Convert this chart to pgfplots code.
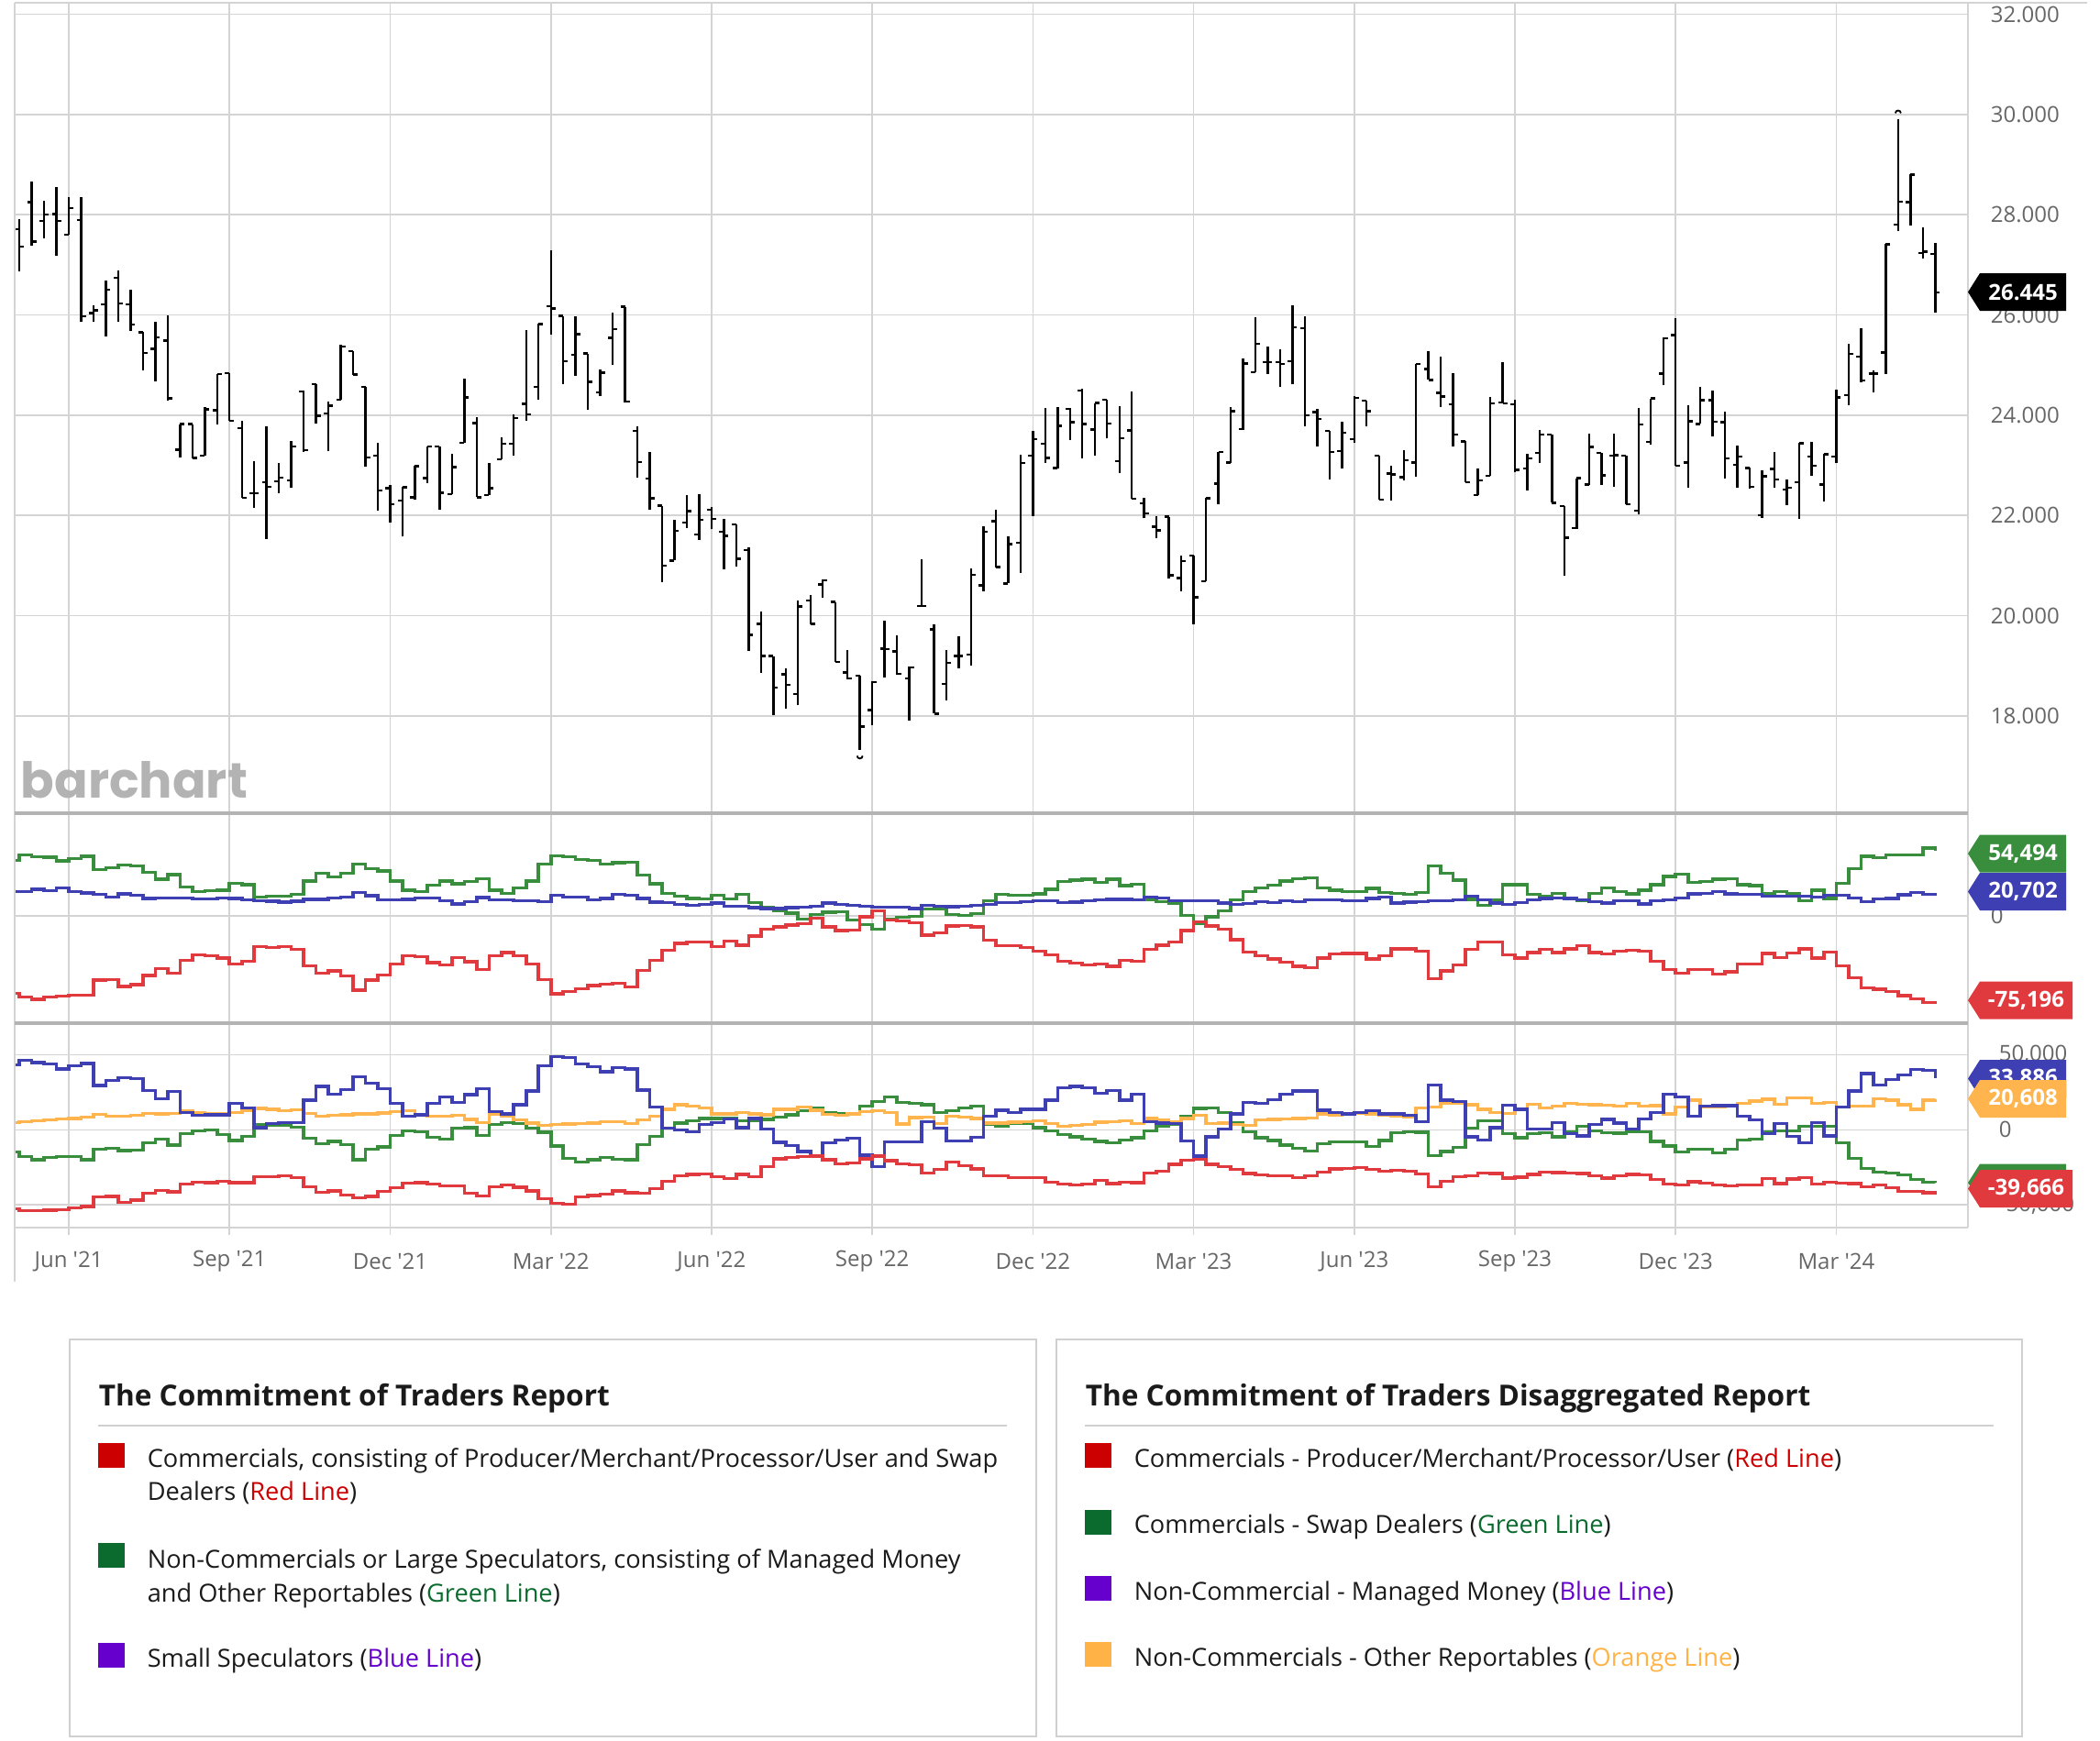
\documentclass[border=0pt]{standalone}
\usepackage{pgfplots}
\pgfplotsset{compat=1.18}
\usepackage{pgfplotstable}
\usepackage{fontspec}
\setmainfont{Open Sans}
\newfontfamily\logofam{Poppins}
\definecolor{gridc}{HTML}{D4D4D4}
\definecolor{sepc}{HTML}{B3B3B3}
\definecolor{lblc}{HTML}{666666}
\definecolor{cred}{HTML}{E03A3E}
\definecolor{cgreen}{HTML}{388E3C}
\definecolor{cblue}{HTML}{3F3FB4}
\definecolor{corange}{HTML}{FFB44D}
\definecolor{lgred}{HTML}{CC0000}
\definecolor{lggreen}{HTML}{0B6B2E}
\definecolor{lgpurple}{HTML}{6600CC}
\definecolor{lgorange}{HTML}{FFB347}
\definecolor{lgtext}{HTML}{1A1A1A}
\definecolor{boxc}{HTML}{D0D0D0}
\definecolor{logoc}{HTML}{B3B3B3}

\pgfdeclareplotmark{nomark}{}
\pgfdeclareplotmark{otick}{\pgfpathmoveto{\pgfqpoint{-1.25pt}{0pt}}\pgfpathlineto{\pgfqpoint{0pt}{0pt}}\pgfusepathqstroke}
\pgfdeclareplotmark{ctick}{\pgfpathmoveto{\pgfqpoint{0pt}{0pt}}\pgfpathlineto{\pgfqpoint{1.25pt}{0pt}}\pgfusepathqstroke}
\pgfdeclareplotmark{topcap}{\pgfpathmoveto{\pgfqpoint{-0.75pt}{1.7pt}}\pgfpatharc{180}{0}{0.75pt}\pgfusepathqstroke}
\pgfdeclareplotmark{botcap}{\pgfpathmoveto{\pgfqpoint{-0.75pt}{-1.7pt}}\pgfpatharc{180}{360}{0.75pt}\pgfusepathqstroke}

\newcommand\lblfont{\fontsize{6}{7}\selectfont}
\newcommand\tagfont{\bfseries\fontsize{6}{7}\selectfont}
\newcommand\bodyfont{\fontsize{6.8}{8}\selectfont}
\newcommand\titlefont{\bfseries\fontsize{7.9}{9}\selectfont}

\pgfplotstableread{
k O H L C
0 27.710 27.921 26.864 27.360
1 28.254 28.658 27.390 27.468
2 27.879 28.278 27.529 28.000
3 28.012 28.556 27.190 27.873
4 27.607 28.344 27.601 28.133
5 27.891 28.344 25.867 25.976
6 26.036 26.187 25.867 26.097
7 26.212 26.683 25.577 26.502
8 26.743 26.882 25.867 26.230
9 26.212 26.502 25.674 25.807
10 25.656 25.656 24.888 25.245
11 25.323 25.867 24.671 25.553
12 25.487 25.988 24.296 24.339
13 23.311 23.825 23.166 23.825
14 23.825 23.825 23.148 23.148
15 23.197 24.163 23.197 24.115
16 24.097 24.822 23.825 24.822
17 24.840 24.840 23.891 23.891
18 23.740 23.885 22.351 22.351
19 22.441 23.088 22.152 22.441
20 22.665 23.771 21.535 22.574
21 22.677 23.046 22.441 22.756
22 22.695 23.493 22.562 23.378
23 24.477 24.496 23.269 23.299
24 24.617 24.617 23.843 23.988
25 24.037 24.266 23.281 24.194
26 24.315 25.402 24.315 25.372
27 25.281 25.281 24.810 24.810
28 24.568 24.568 22.967 23.160
29 23.191 23.450 22.103 22.502
30 22.544 22.605 21.867 22.224
31 22.302 22.574 21.577 22.562
32 22.363 22.985 22.321 22.985
33 22.744 23.372 22.647 23.372
34 23.372 23.372 22.121 22.453
35 22.423 23.239 22.423 22.967
36 23.450 24.731 23.450 24.357
37 23.843 23.964 22.363 22.363
38 22.405 23.040 22.405 22.544
39 23.118 23.559 23.118 23.432
40 23.430 24.013 23.200 23.948
41 24.230 25.692 23.889 24.013
42 24.571 25.836 24.308 25.816
43 26.177 27.300 25.607 26.131
44 25.980 25.980 24.623 25.076
45 25.207 25.980 24.787 25.620
46 25.233 25.233 24.112 24.669
47 24.459 24.918 24.374 24.852
48 25.541 26.046 25.003 25.718
49 26.164 26.164 24.249 24.276
50 23.685 23.771 22.754 23.063
51 22.741 23.259 22.112 22.341
52 22.197 22.197 20.669 21.004
53 21.102 21.915 21.102 21.692
54 21.856 22.413 21.751 22.086
55 21.620 22.426 21.509 21.915
56 22.112 22.164 21.725 21.935
57 21.672 21.935 20.932 21.594
58 21.823 21.823 20.984 21.135
59 21.312 21.358 19.292 19.620
60 19.837 20.079 18.866 19.194
61 19.194 19.194 18.020 18.571
62 18.833 18.951 18.145 18.623
63 18.440 20.295 18.210 20.184
64 20.309 20.407 19.824 19.837
65 20.623 20.721 20.361 20.708
66 20.276 20.276 19.082 19.082
67 18.866 19.325 18.735 18.754
68 18.800 18.800 17.330 17.791
69 18.119 18.689 17.817 18.676
70 19.345 19.902 18.767 19.332
71 19.292 19.607 18.820 18.840
72 18.754 18.984 17.902 18.971
73 20.197 21.128 20.190 20.197
74 19.725 19.837 18.046 18.046
75 18.643 19.325 18.315 19.063
76 19.200 19.587 18.951 19.194
77 19.227 20.938 18.997 20.820
78 20.604 21.790 20.479 21.672
79 21.889 22.112 20.969 20.969
80 20.644 21.577 20.644 21.429
81 21.454 23.221 20.847 23.049
82 23.190 23.693 21.994 23.528
83 23.436 24.153 23.055 23.147
84 22.945 24.172 22.945 23.785
85 24.129 24.141 23.509 23.865
86 24.497 24.521 23.147 23.822
87 23.712 24.245 23.190 24.245
88 24.313 24.313 23.540 23.834
89 23.086 24.184 22.853 23.540
90 23.699 24.466 22.331 22.331
91 22.239 22.350 21.945 22.037
92 21.779 21.982 21.546 21.705
93 21.976 21.976 20.736 20.810
94 20.754 21.196 20.479 21.092
95 21.196 21.196 19.828 20.368
96 20.687 22.344 20.687 22.344
97 22.638 23.264 22.221 23.264
98 23.055 24.160 23.055 24.080
99 23.724 25.141 23.712 25.031
100 24.859 25.951 24.859 25.429
101 25.061 25.368 24.816 25.061
102 25.061 25.325 24.571 25.018
103 25.074 26.196 24.613 25.755
104 25.736 25.982 23.785 23.997
105 24.061 24.129 23.386 23.926
106 23.693 23.693 22.718 23.264
107 23.282 23.865 22.932 23.650
108 23.528 24.374 23.448 24.344
109 24.295 24.295 23.773 24.080
110 23.190 23.190 22.319 22.319
111 22.834 22.994 22.301 22.822
112 22.761 23.301 22.699 23.098
113 23.055 25.031 22.773 25.018
114 24.926 25.276 24.705 24.705
115 24.448 25.166 24.160 24.374
116 24.215 24.847 23.386 23.620
117 23.479 23.479 22.669 22.669
118 22.411 22.932 22.411 22.699
119 22.791 24.356 22.791 24.239
120 24.252 25.057 24.239 24.239
121 24.219 24.318 22.864 22.910
122 22.942 23.224 22.504 23.139
123 23.244 23.702 23.047 23.617
124 23.617 23.617 22.255 22.255
125 22.189 22.189 20.789 21.554
126 21.751 22.746 21.738 22.746
127 22.615 23.630 22.615 23.368
128 23.244 23.244 22.602 22.798
129 23.191 23.630 22.569 23.204
130 23.191 23.191 22.229 22.229
131 22.098 24.154 22.026 23.813
132 23.473 24.337 23.420 24.337
133 24.828 25.548 24.596 25.535
134 25.601 25.941 22.995 22.995
135 23.060 24.206 22.556 23.878
136 23.826 24.566 23.826 24.304
137 24.304 24.487 23.571 23.866
138 23.859 24.075 22.733 23.139
139 23.014 23.387 22.556 23.178
140 22.949 22.949 22.537 22.569
141 22.000 22.910 21.947 22.779
142 22.929 23.276 22.549 22.720
143 22.517 22.713 22.209 22.556
144 22.667 23.453 21.934 23.440
145 23.178 23.473 22.785 22.995
146 22.615 23.237 22.275 23.224
147 23.178 24.514 23.041 24.357
148 24.402 25.418 24.206 25.221
149 25.168 25.744 24.659 24.692
150 24.828 24.894 24.448 24.828
151 25.253 27.414 24.828 27.414
152 27.807 29.902 27.676 28.265
153 28.252 28.808 27.787 28.802
154 27.237 27.741 27.119 27.263
155 27.217 27.434 26.039 26.445
}\price

\pgfplotstableread{
k R G B
-1 -66604 47932 21075
0 -70026 52408 21075
1 -71870 51092 22919
2 -70026 50565 21602
3 -69237 47405 24235
4 -68447 49249 21075
5 -68447 51355 19759
6 -55282 40033 18442
7 -54755 41350 16336
8 -60811 43983 18969
9 -59231 43193 17653
10 -51332 37400 15020
11 -45540 31607 15283
12 -49489 35557 15546
13 -38430 24762 15283
14 -33691 21075 14493
15 -34218 21602 14493
16 -36324 22129 15546
17 -41590 28185 15020
18 -38957 26868 13703
19 -26582 16336 13176
20 -27109 16863 12650
21 -26319 16863 11860
22 -28952 18442 12650
23 -42907 30028 14230
24 -49489 36610 14230
25 -47383 33451 15283
26 -51595 36610 16336
27 -63971 44773 20286
28 -55282 40560 17389
29 -50806 38717 13703
30 -41590 30028 13703
31 -34218 22129 14230
32 -35008 21075 15546
33 -40274 26341 15546
34 -42117 30028 13176
35 -35797 27658 10280
36 -39484 29501 12386
37 -46066 32134 15809
38 -34481 22129 13703
39 -31585 19496 13703
40 -34218 24235 13176
41 -41590 30028 13176
42 -54755 44773 12386
43 -67130 51881 17653
44 -65287 51092 16336
45 -62654 48459 16336
46 -60021 47932 13703
47 -58705 44773 15020
48 -57915 45826 18442
49 -61338 46089 17653
50 -46856 35294 15020
51 -38430 27658 11860
52 -29742 19496 11596
53 -23685 16863 9753
54 -22632 15020 9227
55 -22632 14493 9753
56 -26319 17653 11070
57 -21843 14493 8437
58 -25265 18442 8437
59 -17366 11596 7120
60 -11310 7120 6331
61 -9467 4487 6331
62 -7888 2381 7120
63 -6834 -2622 7647
64 -2095 1328 8437
65 -9467 3171 11070
66 -12627 3698 9753
67 -12100 -3412 8964
68 -779 -7361 8437
69 4487 -11310 7647
70 -3412 -2622 7647
71 -4201 -1305 7647
72 -6045 -252 6331
73 -16576 5804 8964
74 -14733 5804 8437
75 -8678 1065 7910
76 -8151 538 8437
77 -9467 1855 9227
78 -21053 12913 9753
79 -25792 18442 11596
80 -25792 17653 11596
81 -27109 17653 12386
82 -30531 18969 13176
83 -33691 22919 12913
84 -38957 29501 11596
85 -40800 30818 11860
86 -42380 31607 13176
87 -41590 28974 13703
88 -43433 31607 14230
89 -38167 26078 14230
90 -38957 27395 13703
91 -28952 13703 16336
92 -25265 12386 15546
93 -22632 11070 13176
94 -12627 538 13176
95 -5255 -6834 13176
96 -8678 -779 13176
97 -11310 4487 11070
98 -20526 13703 9753
99 -31058 21075 10543
100 -34481 24235 12386
101 -37114 26341 11596
102 -39747 30028 12913
103 -43433 32134 12386
104 -44750 32661 13703
105 -36324 24235 13703
106 -32901 22129 13703
107 -32375 21075 12913
108 -32375 21075 12913
109 -37114 23708 15020
110 -34481 20286 16336
111 -28425 19496 11070
112 -28425 18442 11860
113 -30268 20286 12386
114 -53965 43193 12913
115 -47383 36610 13176
116 -42380 30818 13703
117 -28952 14230 16863
118 -22632 8964 13703
119 -22632 13703 11070
120 -33691 26868 9753
121 -36324 26868 11596
122 -31585 18442 13703
123 -28952 16863 15020
124 -31585 19496 15546
125 -28425 15546 15020
126 -25792 12913 13703
127 -31585 19496 12386
128 -32901 24235 11070
129 -30531 21075 13176
130 -29742 18969 12913
131 -30531 22129 10280
132 -38957 26868 13176
133 -46066 33977 13703
134 -49489 36083 15546
135 -46066 28711 18969
136 -46329 29501 19496
137 -50279 31607 20812
138 -48173 32134 18969
139 -41590 26868 18442
140 -41590 26078 18442
141 -32375 18969 16863
142 -35797 21075 16863
143 -31848 18969 16863
144 -28425 13176 16863
145 -36324 22129 16336
146 -31058 15020 17653
147 -42907 28185 17653
148 -53439 40823 15546
149 -61864 51355 12386
150 -63181 50038 14493
151 -65287 52408 15020
152 -68710 52408 18179
153 -71343 52671 20286
154 -74503 58464 18442
155 -73713 56358 19496
}\cotA

\pgfplotstableread{
k R G B O
-1 -52658 -14899 43269 4898
0 -54087 -17961 46331 5511
1 -54087 -20002 44902 6123
2 -53678 -18369 43882 6531
3 -53270 -17961 40616 7144
4 -52250 -17961 42657 7552
5 -51229 -20002 44290 8572
6 -44902 -12858 29595 10205
7 -44494 -12246 33064 8980
8 -48576 -13879 34697 9185
9 -46943 -13471 34085 9593
10 -42453 -8776 26329 11021
11 -40412 -6327 20818 10613
12 -41432 -10205 25513 11021
13 -36330 -2653 11634 12654
14 -34901 -612 9593 11226
15 -35309 0 10001 11021
16 -34289 -3062 10001 10613
17 -35309 -7144 17757 11634
18 -35309 -4286 14695 13062
19 -31227 3470 1429 14287
20 -31227 3062 4082 13675
21 -30819 3062 4898 12654
22 -31840 1837 4898 13267
23 -37963 -5715 19798 11021
24 -41841 -9185 28982 9185
25 -40820 -7756 23880 9593
26 -43473 -9797 26941 10001
27 -45514 -20002 35513 10613
28 -44494 -12858 31023 10613
29 -41024 -11430 27554 11226
30 -38779 -3674 17757 12042
31 -35718 -612 9185 12654
32 -35309 -1225 10001 10001
33 -36330 -5103 17757 9185
34 -37350 -6123 21839 9185
35 -37350 1021 18165 9593
36 -42453 1429 23472 6939
37 -44086 -3674 27554 4898
38 -37963 3470 12246 10205
39 -36738 4898 10613 9185
40 -38371 4082 16736 6531
41 -40820 1021 25921 4490
42 -45923 -1633 42657 3062
43 -49188 -10817 48780 3470
44 -49596 -18981 48372 3878
45 -44902 -21635 43882 4082
46 -43882 -20002 42249 4490
47 -42861 -18573 38779 5511
48 -40820 -19594 41636 5511
49 -42045 -20002 40616 4082
50 -42453 -9797 26533 6531
51 -39391 -4286 15308 9185
52 -34289 1021 1021 13675
53 -30819 4490 -204 16736
54 -29799 6123 -1225 15716
55 -29595 7552 3470 14695
56 -31227 7552 4898 10613
57 -32656 7552 7144 10613
58 -29799 6123 1429 11634
59 -31227 6123 7552 10613
60 -24696 6939 408 10001
61 -19390 8572 -8368 13675
62 -18573 10001 -10409 13675
63 -17961 12654 -14491 15103
64 -17553 14695 -17961 13062
65 -20002 11634 -8776 10205
66 -22655 10613 -6735 9593
67 -22043 10613 -5715 10613
68 -19390 15716 -16940 12042
69 -17553 18777 -24492 12654
70 -20614 21839 -8164 11634
71 -22655 18369 -8164 3878
72 -23472 17757 -8164 8164
73 -28778 16736 5511 8572
74 -26533 11634 1021 4082
75 -21635 12654 -7348 8980
76 -24084 14695 -7348 8572
77 -26125 15716 -5103 7552
78 -30819 3470 9185 4490
79 -30819 2449 13062 4490
80 -31840 4490 11634 5103
81 -31840 4490 13675 5511
82 -31840 1429 13675 5919
83 -34901 -612 19798 4082
84 -36330 -3266 27962 2449
85 -36738 -4694 28982 2857
86 -36330 -6123 27962 3470
87 -33881 -7756 24492 5103
88 -35922 -8776 26329 5511
89 -34901 -6735 19798 5919
90 -35309 -5307 23880 4082
91 -28778 -612 5511 7552
92 -27758 2449 4490 6531
93 -23063 3470 4082 5103
94 -20410 9185 -7348 7552
95 -19594 14287 -17553 9593
96 -23063 14695 -4694 4082
97 -24492 11634 408 4490
98 -26533 4490 10613 3470
99 -29186 -1225 18369 3062
100 -30207 -5307 17757 6531
101 -30615 -7144 20206 6939
102 -30819 -10205 23880 7144
103 -31840 -12246 25921 7552
104 -30819 -14287 25921 7960
105 -28166 -9185 13062 10613
106 -26125 -8164 11634 10001
107 -25717 -8164 10613 10613
108 -25104 -8164 11634 11021
109 -26533 -11226 12654 10613
110 -27758 -7144 10613 10001
111 -27145 -2041 10613 9185
112 -27758 -1225 9593 8572
113 -29595 -1633 5511 14695
114 -37963 -17349 30003 15308
115 -34289 -14491 19798 17757
116 -31227 -11838 18777 17757
117 -30615 1021 -4694 16736
118 -28778 6123 -6735 13675
119 -29186 6123 1429 11634
120 -32248 -2653 16328 11021
121 -31636 -5307 13675 13675
122 -29799 -2653 408 17144
123 -28166 -2041 408 14695
124 -28574 -4694 4898 15716
125 -28778 -1225 -2653 17757
126 -29186 2449 -4082 17144
127 -30819 -612 3470 16736
128 -32248 -2041 6939 16328
129 -30615 -2245 4490 15716
130 -29799 -1225 408 17757
131 -30207 -1225 7144 15716
132 -33268 -7756 11634 16124
133 -36330 -10817 23880 10613
134 -36738 -14899 21839 15308
135 -34697 -12858 9185 19798
136 -35718 -12858 15716 15103
137 -36738 -15512 16124 15103
138 -37350 -12858 16124 16124
139 -36738 -6735 8980 17757
140 -36738 -6123 6531 19185
141 -32656 -1225 -2653 20410
142 -35922 -612 4082 17144
143 -32860 -612 -4286 21431
144 -31840 2449 -8776 21431
145 -36330 2449 4898 17757
146 -34901 2449 -4082 18369
147 -35718 -8776 15103 15103
148 -35922 -18981 25921 15716
149 -37963 -25717 37554 15716
150 -36738 -28166 30003 20818
151 -38779 -28778 33472 19798
152 -41024 -30207 36738 16736
153 -41024 -33268 40208 13675
154 -42045 -34901 39595 19798
155 -41024 -35309 34697 20206
}\cotB

\pgfplotsset{
  cotbase/.style={
    scale only axis, width=532.5pt, anchor=north west,
    xmin=-0.38, xmax=157.65,
    axis line style={draw=none},
    x tick style={draw=none}, y tick style={draw=none},
    xtick={4,17,...,147}, xticklabels={},
    xmajorgrids, ymajorgrids,
    major grid style={gridc, line width=0.4pt},
    scaled y ticks=false,
    yticklabel pos=right,
    yticklabel style={font=\lblfont, text=lblc, anchor=west, inner sep=0pt, xshift=6pt},
    /pgf/number format/assume math mode=true,
  },
  cotline/.style={const plot, line width=0.9pt, mark=none},
}

\begin{document}
\begin{tikzpicture}
\path[use as bounding box] (0,0) rectangle (572.5pt,-474.5pt);

% ---------- price panel ----------
\begin{axis}[cotbase, at={(4pt,-0.75pt)}, height=221pt,
  ymin=16.06, ymax=32.23, ytick={18,20,...,32},
  yticklabel style={/pgf/number format/fixed, /pgf/number format/fixed zerofill, /pgf/number format/precision=3}]
  \addplot[black, only marks, mark=nomark, forget plot,
    error bars/.cd, y dir=plus, y explicit, error mark=none,
    error bar style={black, solid, line width=0.6pt}]
    table[x=k, y=L, y error expr=\thisrow{H}-\thisrow{L}] {\price};
  \addplot[black, only marks, mark=otick, mark options={solid, line width=0.6pt}] table[x=k, y=O] {\price};
  \addplot[black, only marks, mark=ctick, mark options={solid, line width=0.6pt}] table[x=k, y=C] {\price};
  \addplot[black, only marks, mark=topcap, mark options={solid, line width=0.45pt}] coordinates {(152,29.902)};
  \addplot[black, only marks, mark=botcap, mark options={solid, line width=0.45pt}] coordinates {(68,17.330)};
\end{axis}

% ---------- COT panel ----------
\begin{axis}[cotbase, at={(4pt,-221.75pt)}, height=57.25pt,
  ymin=-92430, ymax=88480, ytick={0}]
  \addplot[cotline, cgreen] table[x=k, y=G] {\cotA};
  \addplot[cotline, cblue] table[x=k, y=B] {\cotA};
  \addplot[cotline, cred] table[x=k, y=R] {\cotA};
\end{axis}

% ---------- Disaggregated COT panel ----------
\begin{axis}[cotbase, at={(4pt,-279pt)}, height=55.5pt,
  ymin=-64710, ymax=71200, ytick={-50000,0,50000},
  xtick pos=left, tick align=outside, major tick length=2.25pt,
  x tick style={draw=gridc, line width=0.4pt},
  xticklabels={Jun \textquotesingle 21, Sep \textquotesingle 21, Dec \textquotesingle 21, Mar \textquotesingle 22, Jun \textquotesingle 22, Sep \textquotesingle 22, Dec \textquotesingle 22, Mar \textquotesingle 23, Jun \textquotesingle 23, Sep \textquotesingle 23, Dec \textquotesingle 23, Mar \textquotesingle 24},
  xticklabel style={font=\lblfont, text=lblc, anchor=center, inner sep=0pt, yshift=-7.2pt}]
  \addplot[cotline, cgreen] table[x=k, y=G] {\cotB};
  \addplot[cotline, corange] table[x=k, y=O] {\cotB};
  \addplot[cotline, cblue] table[x=k, y=B] {\cotB};
  \addplot[cotline, cred] table[x=k, y=R] {\cotB};
\end{axis}

\begin{scope}[x=0.25pt, y=-0.25pt]
  % logo
  \node[anchor=base west, inner sep=0pt, text=logoc] at (22,870) {\logofam\bfseries\fontsize{13.5}{14}\selectfont barchart};
  % frame lines
  \draw[gridc, line width=0.4pt] (16,3) -- (2276,3);
  \draw[gridc, line width=0.4pt] (16,3) -- (16,1398);
  \draw[gridc, line width=0.4pt] (2146,3) -- (2146,1339);
  \draw[gridc, line width=0.5pt] (16,1338.5) -- (2146,1338.5);
  \draw[sepc, line width=0.8pt] (16,887) -- (2146,887);
  \draw[sepc, line width=0.8pt] (16,1116) -- (2146,1116);
  % last value tags
  \newcommand\tagbox[5]{%
    \fill[#1] (2146,#2) -- (2159,#2-20.5) -- (#3,#2-20.5) -- (#3,#2+20.5) -- (2159,#2+20.5) -- cycle;
    \node[text=#5, font=\tagfont, inner sep=0pt, anchor=center] at ({(2159+#3)/2},#2) {#4};}
  \tagbox{black}{318.5}{2253}{26.445}{white}
  \tagbox{cgreen}{931}{2253}{54,494}{white}
  \tagbox{cblue}{972.5}{2253}{20,702}{white}
  \tagbox{cred}{1091}{2260}{-75,196}{white}
  \tagbox{cblue}{1176.5}{2253}{33,886}{white}
  \tagbox{corange}{1198.5}{2253}{20,608}{white}
  \tagbox{cgreen}{1290}{2253}{}{white}
  \tagbox{cred}{1296.5}{2260}{-39,666}{white}

  % ---------- legend boxes ----------
  \draw[boxc, line width=0.45pt] (76,1461) rectangle (1130,1894);
  \draw[boxc, line width=0.45pt] (1152,1461) rectangle (2205,1894);
  \node[anchor=base west, inner sep=0pt, text=lgtext, font=\titlefont] at (107,1533) {The Commitment of Traders Report};
  \node[anchor=base west, inner sep=0pt, text=lgtext, font=\titlefont] at (1183,1533) {The Commitment of Traders Disaggregated Report};
  \draw[boxc, line width=0.45pt] (107,1555) -- (1098,1555);
  \draw[boxc, line width=0.45pt] (1183,1555) -- (2174,1555);

  \fill[lgred] (107,1574) rectangle (136,1601);
  \fill[lggreen] (107,1683) rectangle (136,1710);
  \fill[lgpurple] (107,1792) rectangle (136,1819);
  \begin{scope}[every node/.style={anchor=base west, inner sep=0pt, text=lgtext, font=\bodyfont}]
  \node at (160,1600) {Commercials, consisting of Producer/Merchant/Processor/User and Swap};
  \node at (160,1636.5) {Dealers (\textcolor{lgred}{Red Line})};
  \node at (160,1710) {Non-Commercials or Large Speculators, consisting of Managed Money};
  \node at (160,1747) {and Other Reportables (\textcolor{lggreen}{Green Line})};
  \node at (160,1818.5) {Small Speculators (\textcolor{lgpurple}{Blue Line})};
  \end{scope}

  \fill[lgred] (1183,1574) rectangle (1212,1601);
  \fill[lggreen] (1183,1647) rectangle (1212,1674);
  \fill[lgpurple] (1183,1719) rectangle (1212,1746);
  \fill[lgorange] (1183,1791) rectangle (1212,1818);
  \begin{scope}[every node/.style={anchor=base west, inner sep=0pt, text=lgtext, font=\bodyfont}]
  \node at (1236,1600) {Commercials - Producer/Merchant/Processor/User (\textcolor{lgred}{Red Line})};
  \node at (1236,1672) {Commercials - Swap Dealers (\textcolor{lggreen}{Green Line})};
  \node at (1236,1745) {Non-Commercial - Managed Money (\textcolor{lgpurple}{Blue Line})};
  \node at (1236,1817) {Non-Commercials - Other Reportables (\textcolor{lgorange}{Orange Line})};
  \end{scope}
\end{scope}
\end{tikzpicture}
\end{document}
